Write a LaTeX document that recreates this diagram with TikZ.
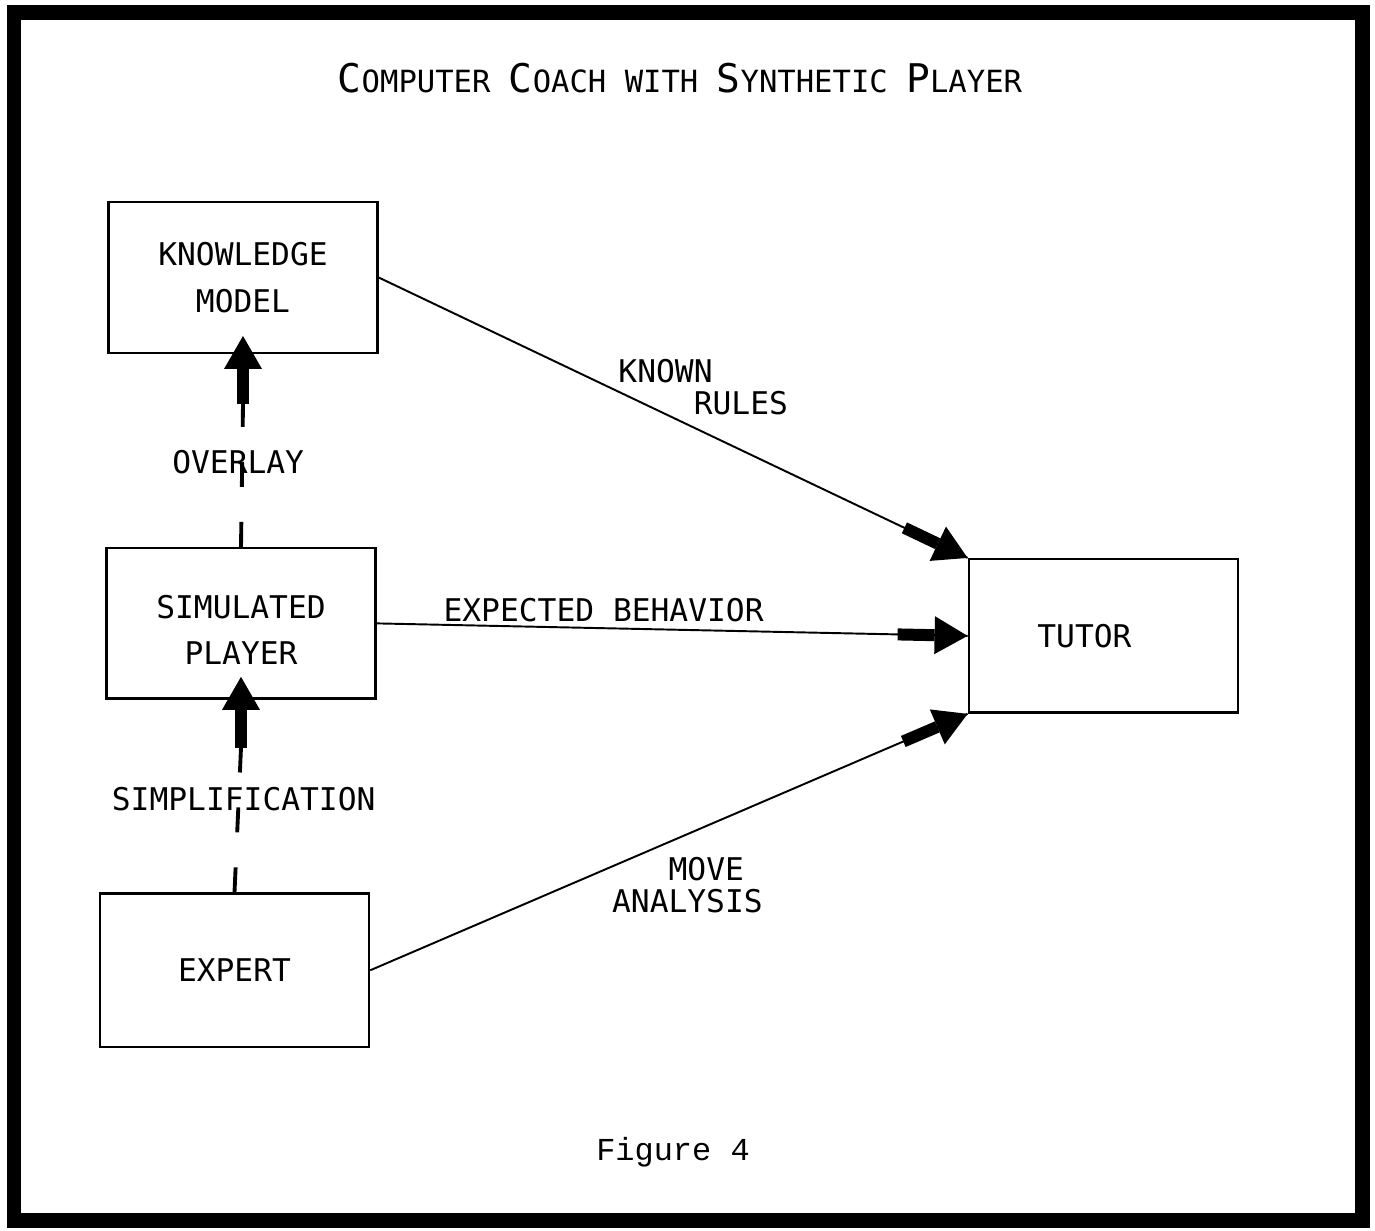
\documentclass[tikz,border=0pt]{standalone}
\usepackage{fontspec}
\setmonofont{DejaVu Sans Mono}
\newfontfamily\figfont{Liberation Mono}
\usetikzlibrary{positioning,arrows.meta,calc}
\newcommand\capl[1]{{\fontsize{22.5pt}{22.5pt}\selectfont#1}}

\begin{document}
\begin{tikzpicture}[x=0.02cm,y=-0.02cm,
        box/.style={draw,line width=1.4pt,minimum width=5.38cm,minimum height=3.01cm,align=center,font=\ttfamily\fontsize{17.8pt}{26.6pt}\selectfont},
        lab/.style={align=left,font=\ttfamily\fontsize{17.8pt}{18.6pt}\selectfont},
        link/.style={line width=1.1pt},
        fat/.style={line width=0.24cm,-{Triangle[width=0.76cm,length=0.66cm,line width=0pt]}},
        dashline/.style={line width=2.2pt,dash pattern=on 0.5cm off 0.7cm}]
        \path[fill=white,use as bounding box] (0,0) rectangle (1375,1230);
        \draw[line width=0.3cm] (14,13) rectangle (1362,1220);

        \node[font=\ttfamily\fontsize{17.4pt}{17.4pt}\selectfont] (title) at (680,78) {\capl{C}OMPUTER \capl{C}OACH WITH \capl{S}YNTHETIC \capl{P}LAYER};

        \node[box] (km) at (243,277.5) {KNOWLEDGE\\MODEL};
        \node[box,below=3.86cm of km,xshift=-0.04cm] (sp) {\\[-6pt]SIMULATED\\PLAYER};
        \node[box,minimum height=3.07cm,below=3.85cm of sp,xshift=-0.13cm] (ex) {EXPERT};
        \node[box,minimum height=3.07cm,right=11.82cm of sp,yshift=-0.25cm] (tu) {TUTOR\hphantom{XX}};
        \coordinate (ovs) at ([yshift=-1cm]km.south);
        \coordinate (sis) at ([yshift=-0.96cm]sp.south);

        \draw[link] (km.east) -- (tu.north west) node[lab,pos=0.551,yshift=0.9cm] {KNOWN\\\hphantom{XXXX}RULES};
        \draw[fat] ($(tu.north west)!1.4cm!(km.east)$) -- (tu.north west);
        \draw[link] (sp.east) -- (tu.west) node[lab,pos=0.384,yshift=0.36cm] {EXPECTED BEHAVIOR};
        \draw[fat] ($(tu.west)!1.4cm!(sp.east)$) -- (tu.west);
        \draw[link] (ex.east) -- (tu.south west) node[lab,pos=0.531,yshift=-1.02cm] {\hphantom{XXX}MOVE\\ANALYSIS};
        \draw[fat] ($(tu.south west)!1.4cm!(ex.east)$) -- (tu.south west);

        \draw[dashline] (sp.north) -- (ovs) node[lab,pos=0.59,xshift=-0.08cm] {OVERLAY};
        \draw[fat] (ovs) -- ([yshift=0.36cm]km.south);
        \draw[dashline] (ex.north) -- (sis) node[lab,pos=0.644,xshift=0.1cm] {SIMPLIFICATION};
        \draw[fat] (sis) -- ([yshift=0.46cm]sp.south);

        \node[font=\figfont\fontsize{18.2pt}{18.2pt}\selectfont] (fig) at (673,1152) {Figure 4};
\end{tikzpicture}
\end{document}
